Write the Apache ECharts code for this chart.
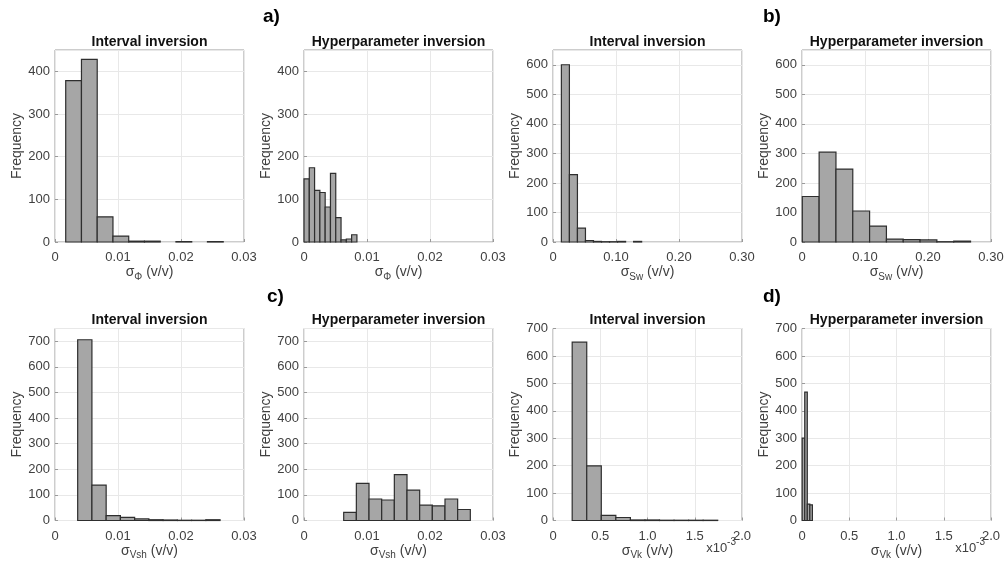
<!DOCTYPE html>
<html>
<head>
<meta charset="utf-8">
<title>Histograms</title>
<script src="https://cdn.jsdelivr.net/npm/echarts@6/dist/echarts.min.js"></script>
<style>
  html, body { margin: 0; padding: 0; background: #fff; }
  #main { width: 1006px; height: 569px; }
</style>
</head>
<body>
<div id="main"></div>
<script>
// histogram bins: first edge, bin width, counts
// phi
const phiIntStart = 0.0017, phiIntWidth = 0.0025
const phiIntCounts = [378, 428, 59, 14, 2, 2, 0, 1, 0, 1]
const phiHypStart = 0.0, phiHypWidth = 0.00084
const phiHypCounts = [148, 174, 121, 116, 82, 161, 57, 5, 7, 17]
// Sw
const swIntStart = 0.0133, swIntWidth = 0.01274
const swIntCounts = [600, 228, 47, 5, 2, 1, 1, 2, 0, 2]
const swHypStart = 0.0005, swHypWidth = 0.0267
const swHypCounts = [154, 304, 247, 105, 54, 10, 8, 7, 1, 3]
// Vsh
const vshIntStart = 0.0036, vshIntWidth = 0.00226
const vshIntCounts = [706, 138, 19, 12, 6, 3, 2, 1, 1, 3]
const vshHypStart = 0.0063, vshHypWidth = 0.00201
const vshHypCounts = [32, 145, 84, 80, 179, 119, 60, 57, 84, 43]
// Vk (in units of 1e-3)
const vkIntStart = 0.203, vkIntWidth = 0.154
const vkIntCounts = [650, 199, 19, 11, 2, 2, 1, 1, 1, 1]
const vkHypStart = 0.002, vkHypWidth = 0.027
const vkHypCounts = [300, 468, 60, 57]

// axis ticks
const phiTicks = {max: 0.03, interval: 0.01, digits: 2}
const swTicks = {max: 0.3, interval: 0.1, digits: 2}
const vshTicks = {max: 0.03, interval: 0.01, digits: 2}
const vkTicks = {max: 2.0, interval: 0.5, digits: 1}
const yMaxTop = [450, 450, 650, 650]
const yMaxBottom = [750, 750, 700, 700]

const titles = ['Interval inversion', 'Hyperparameter inversion', 'Interval inversion', 'Hyperparameter inversion']
const panelLabels = ['a)', 'b)', 'c)', 'd)']

let chartDom = document.getElementById('main')
let myChart = echarts.init(chartDom)
let option

const FONT = '"Liberation Sans", Arial, Helvetica, sans-serif'
const lefts = [55, 304, 553, 802]
const tops = [50, 328.5]
const W = 189, H = 192

function binData(start, width, counts) {
    let out = []
    counts.forEach(function (c, i) {
        if (c > 0) out.push([start + i * width, start + (i + 1) * width, c])
    })
    return out
}

const panels = [
    {bins: binData(phiIntStart, phiIntWidth, phiIntCounts), ticks: phiTicks, ymax: yMaxTop[0], sub: 'Φ'},
    {bins: binData(phiHypStart, phiHypWidth, phiHypCounts), ticks: phiTicks, ymax: yMaxTop[1], sub: 'Φ'},
    {bins: binData(swIntStart, swIntWidth, swIntCounts), ticks: swTicks, ymax: yMaxTop[2], sub: 'Sw'},
    {bins: binData(swHypStart, swHypWidth, swHypCounts), ticks: swTicks, ymax: yMaxTop[3], sub: 'Sw'},
    {bins: binData(vshIntStart, vshIntWidth, vshIntCounts), ticks: vshTicks, ymax: yMaxBottom[0], sub: 'Vsh'},
    {bins: binData(vshHypStart, vshHypWidth, vshHypCounts), ticks: vshTicks, ymax: yMaxBottom[1], sub: 'Vsh'},
    {bins: binData(vkIntStart, vkIntWidth, vkIntCounts), ticks: vkTicks, ymax: yMaxBottom[2], sub: 'Vk'},
    {bins: binData(vkHypStart, vkHypWidth, vkHypCounts), ticks: vkTicks, ymax: yMaxBottom[3], sub: 'Vk'}
]

let grids = [], xAxes = [], yAxes = [], series = [], graphics = []

panels.forEach(function (p, i) {
    let col = i % 4, row = Math.floor(i / 4)
    grids.push({
        left: lefts[col], top: tops[row], width: W, height: H,
        show: true, borderColor: '#9a9a9a', borderWidth: 1,
        outerBoundsMode: 'none'
    })
    xAxes.push({
        type: 'value', gridIndex: i, min: 0, max: p.ticks.max, interval: p.ticks.interval,
        name: '{s|σ}{sub|' + p.sub + '}{t| (v/v)}',
        nameLocation: 'middle', nameGap: 21,
        nameTextStyle: {
            color: '#404040', fontFamily: FONT,
            rich: {
                s: {fontSize: 14, fontFamily: FONT, color: '#404040'},
                sub: {fontSize: 10, fontFamily: FONT, color: '#404040', padding: [9, 0, 0, 0]},
                t: {fontSize: 14, fontFamily: FONT, color: '#404040'}
            }
        },
        axisLine: {show: false},
        axisTick: {show: true, inside: true, length: 3, lineStyle: {color: '#9a9a9a'}},
        axisLabel: {
            margin: 9, fontSize: 13, color: '#404040', fontFamily: FONT,
            formatter: function (v) { return v === 0 ? '0' : v.toFixed(p.ticks.digits) }
        },
        splitLine: {show: true, lineStyle: {color: '#e8e8e8'}}
    })
    yAxes.push({
        type: 'value', gridIndex: i, min: 0, max: p.ymax, interval: 100,
        name: 'Frequency', nameLocation: 'middle', nameGap: 31,
        nameTextStyle: {fontSize: 14, color: '#404040', fontFamily: FONT},
        axisLine: {show: false},
        axisTick: {show: true, inside: true, length: 3, lineStyle: {color: '#9a9a9a'}},
        axisLabel: {
            margin: 5, fontSize: 13, color: '#404040', fontFamily: FONT,
            showMaxLabel: p.ymax % 100 === 0
        },
        splitLine: {show: true, lineStyle: {color: '#e8e8e8'}}
    })
    series.push({
        type: 'custom', xAxisIndex: i, yAxisIndex: i,
        data: p.bins,
        encode: {x: [0, 1], y: 2},
        renderItem: function (params, api) {
            let p0 = api.coord([api.value(0), api.value(2)])
            let p1 = api.coord([api.value(1), 0])
            return {
                type: 'rect',
                shape: {x: p0[0], y: p0[1], width: p1[0] - p0[0], height: p1[1] - p0[1]},
                style: {fill: '#a6a6a6', stroke: '#2e2e2e', lineWidth: 1.2}
            }
        }
    })
    graphics.push({
        type: 'text', x: lefts[col] + W / 2, y: tops[row] - 8,
        style: {
            text: titles[col], fill: '#111', font: 'bold 14px ' + FONT,
            textAlign: 'center', textVerticalAlign: 'middle'
        }
    })
})

// panel letters
const letterPos = [[263, 17], [763, 17], [267, 297], [763, 297]]
panelLabels.forEach(function (t, i) {
    graphics.push({
        type: 'text', x: letterPos[i][0], y: letterPos[i][1],
        style: {text: t, fill: '#000', font: 'bold 19px ' + FONT, textVerticalAlign: 'middle'}
    })
})

// x10^-3 exponent on the Vk axes
;[lefts[2] + W - 6, lefts[3] + W - 6].forEach(function (x) {
    graphics.push({
        type: 'text', x: x, y: 545,
        style: {
            text: '{a|x10}{b|-3}', textAlign: 'right', textVerticalAlign: 'middle',
            rich: {
                a: {fontSize: 13, fontFamily: FONT, fill: '#404040', padding: [6, 0, 0, 0]},
                b: {fontSize: 10, fontFamily: FONT, fill: '#404040', padding: [0, 0, 5, 0]}
            }
        }
    })
})

option = {
    backgroundColor: '#fff',
    animation: false,
    grid: grids,
    xAxis: xAxes,
    yAxis: yAxes,
    series: series,
    graphic: graphics
}

myChart.setOption(option)

window.addEventListener('resize', () => {
    myChart.resize()
})
</script>
</body>
</html>
